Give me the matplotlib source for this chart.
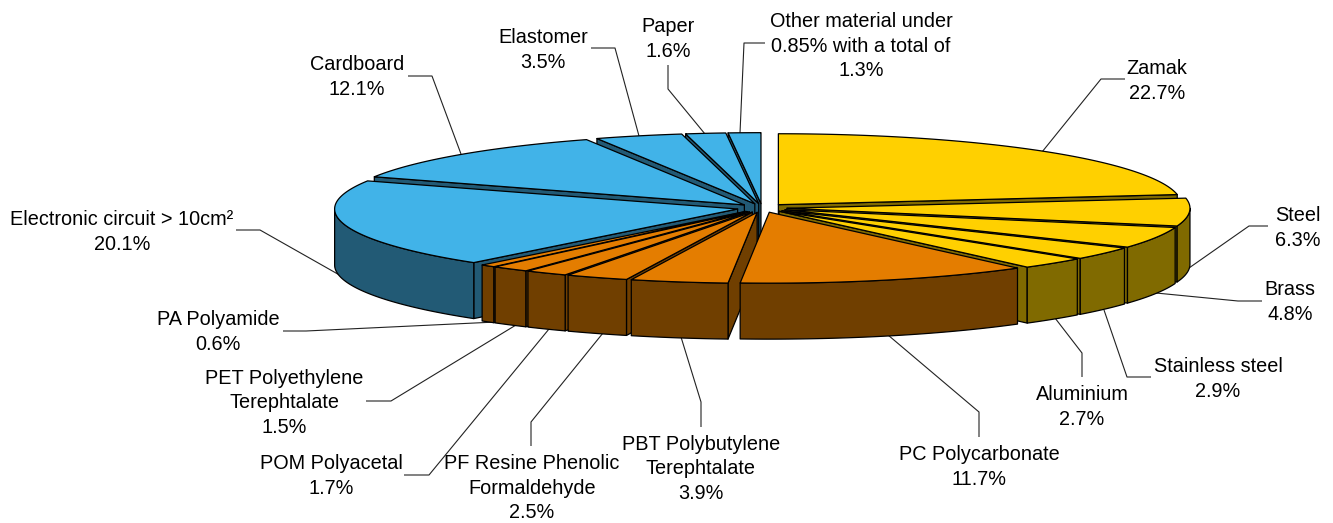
import numpy as np
import matplotlib
matplotlib.use("Agg")
import matplotlib.pyplot as plt
from matplotlib.patches import Polygon

# ---- data ----
categories = ["Zamak", "Steel", "Brass", "Stainless steel", "Aluminium",
              "PC Polycarbonate", "PBT Polybutylene\nTerephtalate",
              "PF Resine Phenolic\nFormaldehyde", "POM Polyacetal",
              "PET Polyethylene\nTerephtalate", "PA Polyamide",
              "Electronic circuit > 10cm²", "Cardboard", "Elastomer", "Paper",
              "Other material under\n0.85% with a total of"]
values = [22.7, 6.3, 4.8, 2.9, 2.7, 11.7, 3.9, 2.5, 1.7, 1.5, 0.6, 20.1, 12.1, 3.5, 1.6, 1.3]
groups = ["metal"] * 5 + ["plastic"] * 6 + ["other"] * 5

# ---- styling / layout ----
top_colors = {"metal": "#FFD000", "plastic": "#E47D00", "other": "#41B3E8"}
side_colors = {"metal": "#806A00", "plastic": "#703F00", "other": "#225A75"}
CX, CY, R, K, EXPLODE, DEPTH = 762.0, 208.0, 403.0, 0.176, 25.0, 56.0

label_centers = [(1157, 81), (1298, 228), (1290, 302), (1218, 379), (1082, 407),
                 (979, 467), (701, 469), (532, 488), (331, 476), (284, 403),
                 (218, 332), (122, 232), (357, 77), (543, 50), (668, 39), (861, 46)]
leaders = [
    [(1125, 79), (1101, 79), (1042, 152)],
    [(1268, 226), (1249, 226), (1189, 268)],
    [(1262, 301), (1238, 301), (1156, 293)],
    [(1151, 377), (1127, 377), (1104, 310)],
    [(1082, 377), (1082, 353), (1055, 318)],
    [(979, 437), (979, 412), (888, 335)],
    [(701, 427), (701, 402), (681, 337)],
    [(531, 446), (531, 422), (603, 333)],
    [(404, 475), (429, 475), (549, 329)],
    [(366, 401), (391, 401), (516, 325)],
    [(283, 331), (306, 331), (496, 322)],
    [(236, 230), (260, 230), (343, 277)],
    [(408, 76), (432, 76), (461, 154)],
    [(591, 48), (615, 48), (639, 136)],
    [(668, 65), (668, 89), (705, 134)],
    [(765, 43), (744, 43), (740, 133)],
]

plt.rcParams["font.family"] = ["Liberation Sans", "DejaVu Sans"]
fig = plt.figure(figsize=(13.33, 5.23), dpi=100)
ax = fig.add_axes([0, 0, 1, 1])
ax.set_xlim(0, 1333)
ax.set_ylim(523, 0)
ax.axis("off")

total = sum(values)
edges = np.concatenate([[0], np.cumsum(values)]) / total * 2 * np.pi
slices = [(edges[i], edges[i + 1], groups[i]) for i in range(len(values))]
# left half back to front, then right half back to front
slices.sort(key=lambda s: (np.sin((s[0] + s[1]) / 2) > 0, -np.cos((s[0] + s[1]) / 2)))

EDGE = dict(edgecolor="black", linewidth=0.9, joinstyle="round")
z = 5
for a0, a1, g in slices:
    mid = (a0 + a1) / 2
    ox = CX + EXPLODE * np.sin(mid)
    oy = CY - EXPLODE * K * np.cos(mid)
    rim = lambda t: np.column_stack([ox + R * np.sin(t), oy - R * K * np.cos(t)])
    down = np.array([0, DEPTH])
    apex = np.array([ox, oy])
    # radial faces that look towards the viewer
    if np.sin(a0) < 0:
        p = rim(np.array([a0]))[0]
        ax.add_patch(Polygon([apex, p, p + down, apex + down], facecolor=side_colors[g], zorder=z, **EDGE))
    if np.sin(a1) > 0:
        p = rim(np.array([a1]))[0]
        ax.add_patch(Polygon([apex, p, p + down, apex + down], facecolor=side_colors[g], zorder=z, **EDGE))
    # outer wall (front half only)
    w0, w1 = max(a0, np.pi / 2), min(a1, 3 * np.pi / 2)
    if w1 > w0:
        t = np.linspace(w0, w1, 80)
        arc = rim(t)
        ax.add_patch(Polygon(np.vstack([arc, (arc + down)[::-1]]), facecolor=side_colors[g], zorder=z, **EDGE))
    # top face
    t = np.linspace(a0, a1, 120)
    ax.add_patch(Polygon(np.vstack([apex, rim(t)]), facecolor=top_colors[g], zorder=z + 0.5, **EDGE))
    z += 1

for cat, v, (x, y), pts in zip(categories, values, label_centers, leaders):
    ax.text(x, y, f"{cat}\n{v}%", ha="center", va="center", multialignment="center",
            fontsize=14.3, color="black", linespacing=1.34, zorder=40)
    xs, ys = zip(*pts)
    ax.plot(xs, ys, color="#222222", lw=0.8, zorder=2, solid_capstyle="butt")

fig.savefig("out.png", dpi=100, facecolor="white")
